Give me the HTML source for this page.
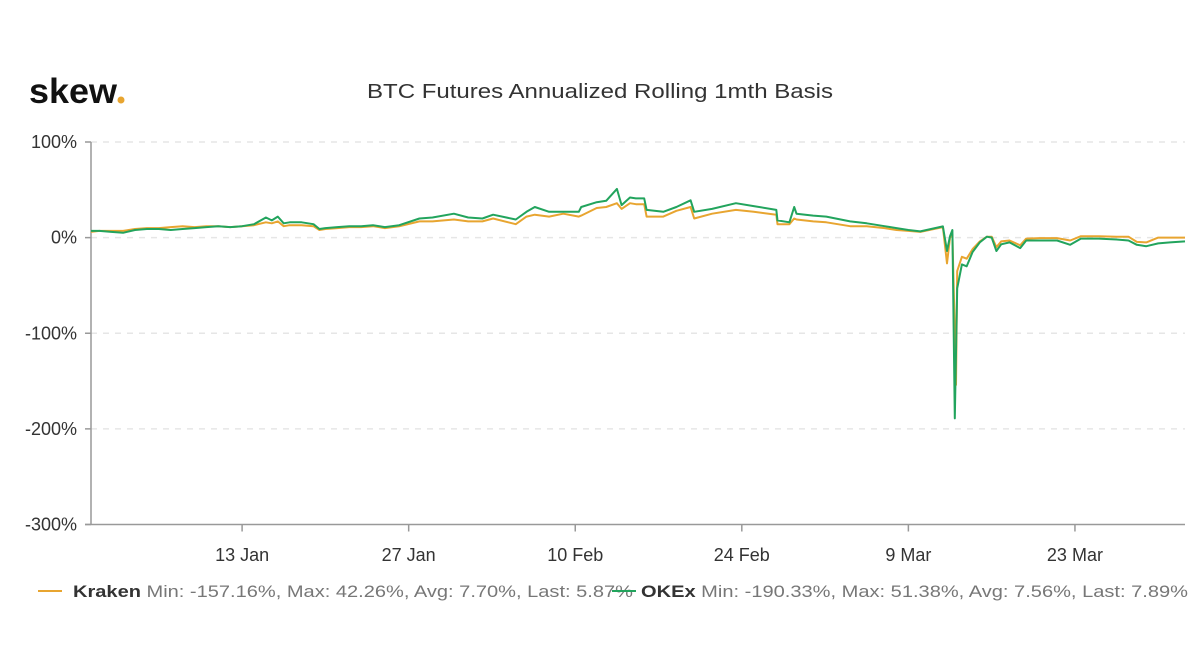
<!DOCTYPE html>
<html><head><meta charset="utf-8"><style>
html,body{margin:0;padding:0;background:#fff;}
svg{display:block;font-family:"Liberation Sans",sans-serif;}
</style></head><body>
<svg id="chart" width="1200" height="670" viewBox="0 0 1200 670">
<text x="29" y="103" font-size="35" font-weight="bold" fill="#111" textLength="88" lengthAdjust="spacingAndGlyphs">skew</text>
<circle cx="121" cy="100" r="3.5" fill="#e8a530"/>
<text x="600" y="98" font-size="20" font-weight="500" fill="#333" text-anchor="middle" textLength="466" lengthAdjust="spacingAndGlyphs">BTC Futures Annualized Rolling 1mth Basis</text>
<g id="grid"></g>
<g id="axes"></g>
<g id="series"></g>
<g>
<line x1="38" y1="591" x2="62" y2="591" stroke="#e8a530" stroke-width="2"/>
<text x="73" y="597" font-size="17" fill="#777" textLength="560" lengthAdjust="spacingAndGlyphs"><tspan fill="#333" font-weight="bold">Kraken</tspan> Min: -157.16%, Max: 42.26%, Avg: 7.70%, Last: 5.87%</text>
<line x1="612" y1="591" x2="636" y2="591" stroke="#22a45d" stroke-width="2"/>
<text x="641" y="597" font-size="17" fill="#777" textLength="547" lengthAdjust="spacingAndGlyphs"><tspan fill="#333" font-weight="bold">OKEx</tspan> Min: -190.33%, Max: 51.38%, Avg: 7.56%, Last: 7.89%</text>
</g>
</svg>
<script>
const days = [-0.7,0,1,2,3,4,5,6,7,8,9,10,11,12,13,14,14.5,15,15.5,16,17,18,18.5,19,20,21,22,23,24,25.2,26.9,28,29.8,31,32.2,33.1,35,35.9,36.6,37.8,39,40.3,40.5,41.8,42.6,43.5,43.9,44.6,45.1,45.8,46,47.4,48.5,49.7,50,51.5,53.5,55,56.9,57,58,58.4,58.6,60,61.1,63.1,64.5,66,67,68,69,70.9,71.25,71.5,71.7,71.9,72,72.1,72.5,72.9,73.4,74,74.6,75,75.4,75.8,76.5,77.4,77.9,79,80.5,81.6,82.5,84,85.5,86.5,87.2,88,89,90,91.25];
const okex =   [7,7,6,5,8,9,9,8,9,10,11,12,11,12,14,21,18,22,15,16,16,14,9,10,11,12,12,13,11,13,20,21,25,21,20,24,19,27,32,27,27,27,32,37,38.5,51,34,42,41,41,29,27,32,39,27,30,36,33,29,18,16,32,25,23,22,17,15,12,10,8,6.5,11.7,-14,1.5,8,-189,-120,-53,-28,-30,-15,-5,1,0,-14,-7,-5,-11,-3,-3,-3,-7.5,-1,-1,-2,-3,-7.5,-9,-6,-5,-4];
const kraken = [6,7,7,7,9,10,10,11,12,11,12,12,11,12,13,16,15,17,12,13,13,12,8,9,10,11,11,12,10,11.8,17,17,19,17,17,20,14,22,24,22,25,22,23,31,32,36,30,36,35,35,22,22,28,32,20,25,29,27,24,14,14,20,19,17,16,12,12,10,8,7,6,11,-27,0,3,-100,-154,-35,-20,-22,-12,-4,1,1,-10,-4,-3,-8,-1,-0.5,-0.5,-3,1.5,1.5,1,1,-4.5,-5,0,0,0];
const yTicks = [100,0,-100,-200,-300];
const yTickLabels = ["100%","0%","-100%","-200%","-300%"];
const xTickDays = [12,26,40,54,68,82];
const xTickLabels = ["13 Jan","27 Jan","10 Feb","24 Feb","9 Mar","23 Mar"];

const X0=91, X1=1185, D0=-0.7, D1=91.25;
function xs(d){return X0+(d-D0)/(D1-D0)*(X1-X0);}
function ys(v){return 142+(100-v)/400*(524.5-142);}
const NS="http://www.w3.org/2000/svg";
function mk(tag,attrs,parent){const e=document.createElementNS(NS,tag);for(const k in attrs)e.setAttribute(k,attrs[k]);parent.appendChild(e);return e;}
const grid=document.getElementById('grid'), axes=document.getElementById('axes'), series=document.getElementById('series');
yTicks.forEach((v,i)=>{
  const y=ys(v);
  if(v!==-300){
    const g=mk('line',{x1:X0,x2:X1,y1:y,y2:y,stroke:'#e6e6e6','stroke-width':1.5,'stroke-dasharray':'6,6'},grid);
    
    
  }
  const t=mk('line',{x1:X0-6,x2:X0,y1:y,y2:y,stroke:'#999','stroke-width':1.5},axes);
  
  
  const l=mk('text',{x:X0-14,y:y+6,'font-size':18,fill:'#333','text-anchor':'end'},axes);
  l.textContent=yTickLabels[i];
  
  
});
const ya=mk('line',{x1:X0,x2:X0,y1:142,y2:ys(-300),stroke:'#999','stroke-width':1.5},axes);


const xa=mk('line',{x1:X0-6,x2:X1,y1:ys(-300),y2:ys(-300),stroke:'#999','stroke-width':1.5},axes);


xTickDays.forEach((d,i)=>{
  const x=xs(d);
  const t=mk('line',{x1:x,x2:x,y1:ys(-300),y2:ys(-300)+7,stroke:'#999','stroke-width':1.5},axes);
  
  
  const l=mk('text',{x:x,y:561,'font-size':18,fill:'#333','text-anchor':'middle'},axes);
  l.textContent=xTickLabels[i];
  
  
});
function line(vals,color,name){
  const d=vals.map((v,i)=>(i?'L':'M')+xs(days[i]).toFixed(1)+','+ys(v).toFixed(1)).join('');
  const p=mk('path',{d:d,fill:'none',stroke:color,'stroke-width':2,'stroke-linejoin':'round'},series);
  
  
}
line(kraken,'#e8a530','kraken-line');
line(okex,'#22a45d','okex-line');
</script>
</body></html>
